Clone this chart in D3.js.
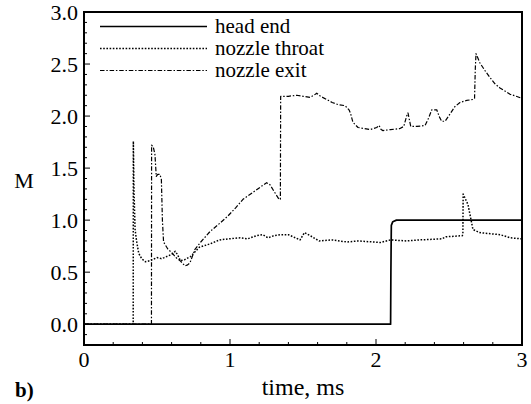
<!DOCTYPE html>
<html>
<head>
<meta charset="utf-8">
<script src="https://cdn.jsdelivr.net/npm/d3@7/dist/d3.min.js"></script>
<style>
  svg text { font-family: "Liberation Serif", "Times New Roman", serif !important; }
</style>
</head>
<body style="margin:0;background:#fff">
<svg id="machplot" width="531" height="404" style="display:block" font-family="Liberation Serif, serif"></svg>
<script>
// Mach number histories at three stations (time in ms, M)
const headEnd = [
  [0, 0], [2.100, 0], [2.102, 0.5], [2.105, 0.95], [2.115, 0.985], [2.14, 1.0], [3.0, 1.0]
];
const nozzleThroat = [
  [0, 0], [0.337, 0], [0.338, 1.76], [0.342, 1.3], [0.35, 0.91], [0.36, 0.80], [0.375, 0.68],
  [0.395, 0.63], [0.42, 0.60], [0.45, 0.61], [0.50, 0.64], [0.53, 0.63], [0.55, 0.64],
  [0.60, 0.67], [0.625, 0.70], [0.64, 0.67], [0.66, 0.61], [0.69, 0.62], [0.73, 0.65],
  [0.79, 0.74], [0.86, 0.77], [0.93, 0.81], [0.99, 0.82], [1.07, 0.83], [1.12, 0.82],
  [1.18, 0.85], [1.225, 0.86], [1.26, 0.83], [1.30, 0.85], [1.35, 0.86], [1.40, 0.86],
  [1.48, 0.81], [1.51, 0.88], [1.55, 0.85], [1.61, 0.80], [1.70, 0.81], [1.80, 0.79],
  [1.88, 0.80], [2.03, 0.785], [2.10, 0.81], [2.21, 0.80], [2.30, 0.81], [2.45, 0.82],
  [2.48, 0.84], [2.59, 0.85], [2.595, 0.86], [2.597, 1.25], [2.63, 1.15], [2.664, 0.91],
  [2.71, 0.88], [2.85, 0.86], [2.92, 0.83], [3.0, 0.82]
];
const nozzleExit = [
  [0, 0], [0.462, 0], [0.463, 1.72], [0.475, 1.70], [0.486, 1.63], [0.495, 1.42],
  [0.505, 1.44], [0.52, 1.44], [0.53, 1.39], [0.537, 1.0], [0.545, 0.79], [0.575, 0.72],
  [0.60, 0.69], [0.63, 0.64], [0.658, 0.61], [0.692, 0.56], [0.71, 0.57], [0.726, 0.59],
  [0.76, 0.72], [0.80, 0.79], [0.863, 0.89], [0.93, 0.97], [0.986, 1.04], [1.04, 1.12],
  [1.089, 1.20], [1.17, 1.28], [1.251, 1.36], [1.274, 1.34], [1.30, 1.28], [1.336, 1.20],
  [1.345, 1.20], [1.347, 2.19], [1.40, 2.19], [1.457, 2.20], [1.50, 2.19], [1.548, 2.18],
  [1.575, 2.20], [1.594, 2.22], [1.62, 2.19], [1.662, 2.16], [1.70, 2.13], [1.740, 2.11],
  [1.788, 2.10], [1.815, 2.06], [1.825, 2.03], [1.842, 1.94], [1.877, 1.89], [1.92, 1.88],
  [1.959, 1.87], [2.005, 1.89], [2.021, 1.91], [2.035, 1.87], [2.048, 1.86], [2.10, 1.87],
  [2.164, 1.88], [2.19, 1.90], [2.21, 2.00], [2.219, 2.03], [2.238, 1.90], [2.28, 1.90],
  [2.336, 1.91], [2.36, 1.98], [2.382, 2.06], [2.416, 2.06], [2.435, 1.99], [2.450, 1.95],
  [2.473, 1.95], [2.507, 2.02], [2.54, 2.09], [2.575, 2.13], [2.62, 2.15], [2.666, 2.16],
  [2.675, 2.17], [2.68, 2.45], [2.685, 2.60], [2.712, 2.51], [2.745, 2.44], [2.781, 2.37],
  [2.815, 2.31], [2.849, 2.27], [2.918, 2.21], [2.96, 2.19], [3.0, 2.17]
];

const seriesNames = ["head end", "nozzle throat", "nozzle exit"];
const xTickValues = [0, 1, 2, 3];
const yTickValues = [0.0, 0.5, 1.0, 1.5, 2.0, 2.5, 3.0];
const xLabel = "time, ms";
const yLabel = "M";
const panelLabel = "b)";

const svg = d3.select("#machplot");
const plot = { left: 84, right: 522, top: 12, bottom: 345 };

const x = d3.scaleLinear().domain([0, 3]).range([plot.left, plot.right]);
const y = d3.scaleLinear().domain([-0.2, 3.0]).range([plot.bottom, plot.top]);

const styles = [
  { width: 1.7, dash: null },
  { width: 1.5, dash: "1.6,1.6" },
  { width: 1.2, dash: "4.5,1.8,1.5,1.8" }
];
const seriesData = [headEnd, nozzleThroat, nozzleExit];

// every label uses a serif face
function label(sel, size, weight) {
  return sel.attr("font-family", "Liberation Serif, serif")
    .attr("style", `font-family: 'Liberation Serif', serif !important; font-size: ${size}px !important; font-weight: ${weight || "normal"}`);
}

// clip curves to the frame
svg.append("defs").append("clipPath").attr("id", "plotclip")
  .append("rect")
  .attr("x", plot.left).attr("y", plot.top)
  .attr("width", plot.right - plot.left).attr("height", plot.bottom - plot.top);

// minor ticks (inside the frame)
const xMinor = d3.range(0, 3.0001, 0.2);
const yMinor = d3.range(-0.2, 3.0001, 0.1);

const ticks = svg.append("g").attr("stroke", "#000").attr("stroke-width", 1);
const isMajor = v => Math.abs(v - Math.round(v)) < 1e-6;
ticks.selectAll(".xt").data(xMinor).join("line")
  .attr("x1", d => x(d)).attr("x2", d => x(d))
  .attr("y1", plot.bottom).attr("y2", d => plot.bottom - (isMajor(d) ? 6 : 3));
ticks.selectAll(".yt").data(yMinor).join("line")
  .attr("y1", d => y(d)).attr("y2", d => y(d))
  .attr("x1", plot.left).attr("x2", d => plot.left + (Math.abs(d * 2 - Math.round(d * 2)) < 1e-6 ? 6 : 3));

// curves
const line = d3.line().x(d => x(d[0])).y(d => y(d[1]));
const curves = svg.append("g").attr("clip-path", "url(#plotclip)");
// draw exit and throat first, head end on top
[2, 1, 0].forEach(i => {
  curves.append("path")
    .attr("d", line(seriesData[i]))
    .attr("fill", "none")
    .attr("stroke", "#000")
    .attr("stroke-width", styles[i].width)
    .attr("stroke-dasharray", styles[i].dash)
    .attr("stroke-linejoin", "round");
});

// frame
svg.append("rect")
  .attr("x", plot.left).attr("y", plot.top)
  .attr("width", plot.right - plot.left).attr("height", plot.bottom - plot.top)
  .attr("fill", "none").attr("stroke", "#000").attr("stroke-width", 2);

// tick labels
label(svg.append("g").selectAll("text").data(xTickValues).join("text"), 22)
  .attr("x", d => x(d)).attr("y", plot.bottom + 22)
  .attr("text-anchor", "middle")
  .text(d => d3.format("d")(d));
label(svg.append("g").selectAll("text").data(yTickValues).join("text"), 22)
  .attr("x", plot.left - 6).attr("y", d => y(d) + 7.5)
  .attr("text-anchor", "end")
  .text(d => d3.format(".1f")(d));

// axis titles
label(svg.append("text"), 22).attr("x", 24).attr("y", 188)
  .attr("text-anchor", "middle").text(yLabel);
label(svg.append("text"), 24).attr("x", 303).attr("y", 395)
  .attr("text-anchor", "middle").text(xLabel);
label(svg.append("text"), 21, "bold").attr("x", 15).attr("y", 397).text(panelLabel);

// legend
const legendY = [26.5, 48.5, 70.5];
const legend = svg.append("g");
seriesNames.forEach((name, i) => {
  legend.append("line")
    .attr("x1", 100).attr("x2", 207)
    .attr("y1", legendY[i]).attr("y2", legendY[i])
    .attr("stroke", "#000")
    .attr("stroke-width", styles[i].width)
    .attr("stroke-dasharray", styles[i].dash);
  label(legend.append("text"), 21)
    .attr("x", 215).attr("y", legendY[i] + 6.5)
    .text(name);
});
</script>
</body>
</html>
